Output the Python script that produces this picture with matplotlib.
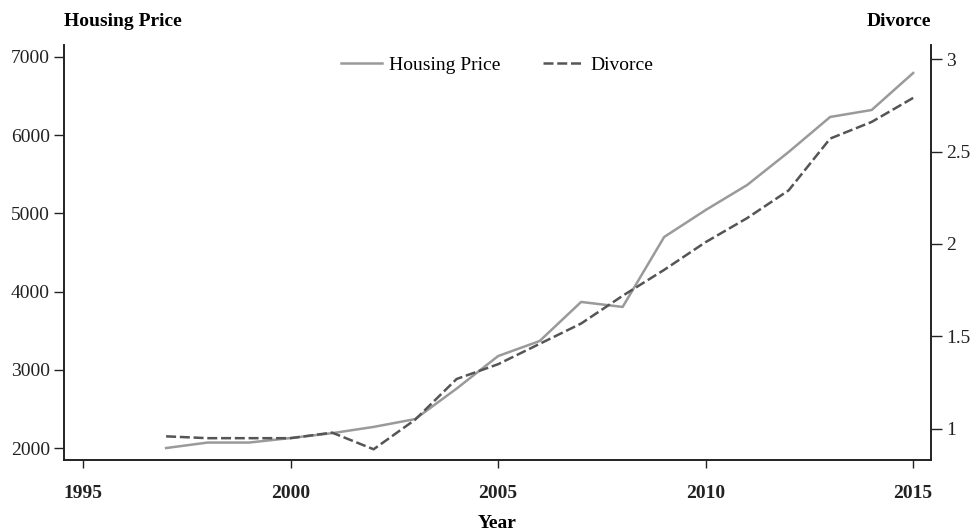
import matplotlib.pyplot as plt

# data
years = [1997, 1998, 1999, 2000, 2001, 2002, 2003, 2004, 2005, 2006,
         2007, 2008, 2009, 2010, 2011, 2012, 2013, 2014, 2015]
housing_price = [2000, 2070, 2070, 2128, 2190, 2270, 2370, 2760, 3176, 3368,
                 3868, 3804, 4698, 5043, 5363, 5785, 6233, 6322, 6795]
divorce = [0.96, 0.95, 0.95, 0.95, 0.98, 0.89, 1.05, 1.27, 1.35, 1.46,
           1.57, 1.72, 1.86, 2.01, 2.14, 2.29, 2.57, 2.66, 2.79]

left_ticks = [2000, 3000, 4000, 5000, 6000, 7000]
right_ticks = [1, 1.5, 2, 2.5, 3]
right_labels = ['1', '1.5', '2', '2.5', '3']
year_ticks = [1995, 2000, 2005, 2010, 2015]

plt.rcParams['font.family'] = ['Liberation Serif', 'DejaVu Serif']

fig = plt.figure(figsize=(9.76, 5.31), dpi=100)
ax = fig.add_axes([64/976, 1-460/531, (931-64)/976, (460-45)/531])
ax2 = ax.twinx()

l1, = ax.plot(years, housing_price, color='#9a9a9a', lw=1.8, label='Housing Price')
l2, = ax2.plot(years, divorce, color='#555555', lw=1.8, ls=(0, (4, 1.5)), label='Divorce')

ax.set_xlim(1994.54, 2015.43)
ax.set_ylim(1847, 7153)
ax2.set_ylim(0.832, 3.076)

ax.set_xticks(year_ticks)
ax.set_xticklabels([str(y) for y in year_ticks], fontweight='bold', fontsize=14)
ax.set_yticks(left_ticks)
ax.set_yticklabels([str(v) for v in left_ticks], fontsize=14)
ax2.set_yticks(right_ticks)
ax2.set_yticklabels(right_labels, fontsize=14)

ax.tick_params(axis='x', length=6, width=1, pad=12, colors='#222222')
ax.tick_params(axis='y', length=7, width=1, pad=3, colors='#222222')
ax2.tick_params(axis='y', length=8, width=1, pad=3, colors='#222222')

for a in (ax, ax2):
    a.spines['top'].set_visible(False)
    for s in ('left', 'right', 'bottom'):
        a.spines[s].set_color('#222222')
        a.spines[s].set_linewidth(1.2)

ax.set_xlabel('Year', fontweight='bold', fontsize=14, labelpad=9)
fig.text(64/976, 1-21/531, 'Housing Price', fontweight='bold', fontsize=14,
         ha='left', va='center')
fig.text(931/976, 1-21/531, 'Divorce', fontweight='bold', fontsize=14,
         ha='right', va='center')

ax.legend([l1, l2], ['Housing Price', 'Divorce'], loc='upper center',
          bbox_to_anchor=(0.5, 1.0), ncol=2, frameon=False, fontsize=14,
          handlelength=2.1, handletextpad=0.35, columnspacing=2.2,
          borderaxespad=0.2)

plt.savefig('out.png', dpi=100)
